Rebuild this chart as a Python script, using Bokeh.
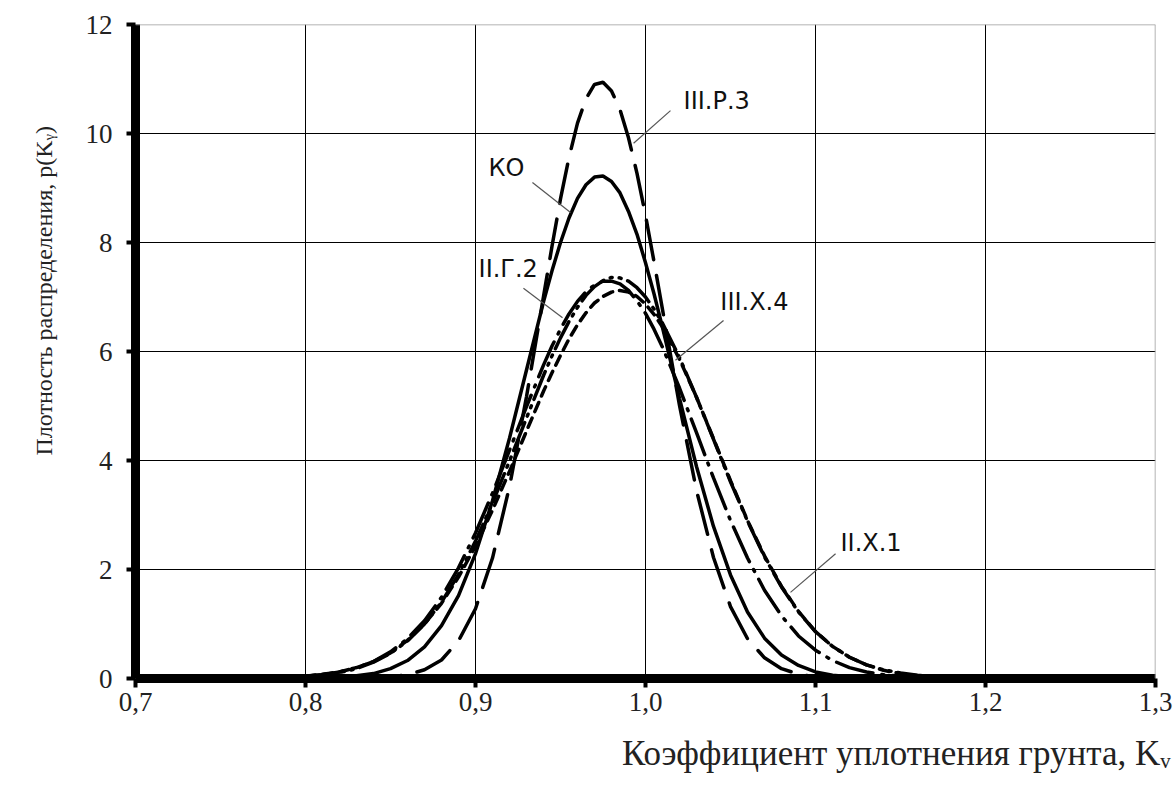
import math
from bokeh.plotting import figure
from bokeh.models import Label, FixedTicker, CustomJSTickFormatter, ColumnDataSource, Title, Span
from bokeh.embed import file_html
from bokeh.resources import INLINE

# ---- data ----
k_values = [0.80, 0.81, 0.82, 0.83, 0.84, 0.85, 0.86, 0.87, 0.88, 0.89,
            0.90, 0.91, 0.92, 0.93, 0.94,
            0.945, 0.95, 0.955, 0.96, 0.965, 0.97, 0.975, 0.98, 0.985, 0.99, 0.995, 1.00, 1.005,
            1.01, 1.02, 1.03, 1.04, 1.05, 1.06, 1.07, 1.08, 1.09, 1.10,
            1.11, 1.12, 1.13, 1.14, 1.15, 1.16, 1.17, 1.18, 1.19, 1.20]

p_III_R_3 = [0.00, 0.00, 0.00, 0.00, 0.01, 0.03, 0.07, 0.16, 0.34, 0.69,
             1.28, 2.21, 3.52, 5.17, 7.01,
             7.93, 8.80, 9.56, 10.19, 10.64, 10.90, 10.94, 10.78, 10.44, 9.92, 9.27, 8.50, 7.65,
             6.77, 5.01, 3.45, 2.22, 1.32, 0.73, 0.38, 0.18, 0.08, 0.03,
             0.01, 0.00, 0.00, 0.00, 0.00, 0.00, 0.00, 0.00, 0.00, 0.00]

p_KO = [0.00, 0.01, 0.02, 0.05, 0.09, 0.18, 0.33, 0.58, 0.97, 1.52,
        2.29, 3.26, 4.41, 5.66, 6.91,
        7.48, 8.00, 8.45, 8.81, 9.06, 9.20, 9.22, 9.12, 8.91, 8.57, 8.15, 7.63, 7.06,
        6.44, 5.14, 3.89, 2.79, 1.90, 1.22, 0.74, 0.43, 0.24, 0.12,
        0.06, 0.03, 0.01, 0.00, 0.00, 0.00, 0.00, 0.00, 0.00, 0.00]

p_II_G_2 = [0.04, 0.07, 0.12, 0.20, 0.31, 0.49, 0.73, 1.06, 1.49, 2.03,
            2.67, 3.40, 4.19, 4.99, 5.75,
            6.10, 6.41, 6.69, 6.92, 7.10, 7.22, 7.29, 7.29, 7.24, 7.12, 6.93, 6.70, 6.41,
            6.08, 5.33, 4.51, 3.68, 2.90, 2.21, 1.62, 1.15, 0.78, 0.52,
            0.33, 0.20, 0.12, 0.07, 0.04, 0.02, 0.01, 0.00, 0.00, 0.00]

p_III_X_4 = [0.04, 0.08, 0.12, 0.20, 0.31, 0.47, 0.70, 1.00, 1.38, 1.86,
             2.43, 3.09, 3.80, 4.54, 5.27,
             5.61, 5.93, 6.23, 6.49, 6.71, 6.89, 7.01, 7.09, 7.12, 7.09, 7.01, 6.87, 6.68,
             6.45, 5.86, 5.16, 4.40, 3.63, 2.90, 2.25, 1.69, 1.23, 0.86,
             0.59, 0.39, 0.25, 0.15, 0.09, 0.05, 0.03, 0.02, 0.01, 0.00]

p_II_X_1 = [0.04, 0.07, 0.11, 0.18, 0.30, 0.46, 0.69, 1.00, 1.40, 1.91,
            2.52, 3.22, 3.99, 4.78, 5.56,
            5.92, 6.25, 6.55, 6.81, 7.03, 7.19, 7.30, 7.36, 7.35, 7.29, 7.17, 7.00, 6.78,
            6.52, 5.89, 5.16, 4.39, 3.61, 2.89, 2.23, 1.68, 1.22, 0.86,
            0.59, 0.39, 0.25, 0.16, 0.10, 0.06, 0.03, 0.02, 0.01, 0.00]

x_ticks = [0.7, 0.8, 0.9, 1.0, 1.1, 1.2, 1.3]
y_ticks = [0, 2, 4, 6, 8, 10, 12]

curve_names = ["III.Р.3", "КО", "II.Г.2", "III.Х.4", "II.Х.1"]
# label anchor (left, middle) and leader line ends, in data units
name_x = [1.0224, 0.9076, 0.9018, 1.0440, 1.1147]
name_y = [10.60, 9.36, 7.52, 6.90, 2.48]
lead_x0 = [1.0147, 0.9335, 0.9282, 1.0459, 1.1118]
lead_y0 = [10.42, 9.10, 7.16, 6.57, 2.29]
lead_x1 = [0.9930, 0.9559, 0.9512, 1.0176, 1.0853]
lead_y1 = [9.82, 8.55, 6.62, 5.84, 1.58]

x_title = "Коэффициент уплотнения грунта, Kᵥ"
y_title = "Плотность распределения, p(Kᵧ)"

# ---- figure ----
p = figure(width=1176, height=791, x_range=(0.7, 1.3), y_range=(0, 12),
           output_backend="svg", toolbar_location=None,
           min_border_left=135, min_border_right=21, min_border_top=24, min_border_bottom=113)
p.background_fill_color = "white"
p.border_fill_color = "white"
p.outline_line_color = None

fmt = CustomJSTickFormatter(code="return tick.toFixed(1).replace('.', ',');")
p.xaxis.ticker = FixedTicker(ticks=x_ticks)
p.xaxis.formatter = fmt
p.yaxis.ticker = FixedTicker(ticks=y_ticks)
p.xgrid.ticker = FixedTicker(ticks=x_ticks[1:-1])
p.ygrid.ticker = FixedTicker(ticks=y_ticks[1:-1])
p.grid.grid_line_color = "black"
p.grid.grid_line_width = 1

# light frame lines at the top and right edges
p.add_layout(Span(location=y_ticks[-1], dimension="width", line_color="#9a9a9a", line_width=1.5))
p.add_layout(Span(location=x_ticks[-1], dimension="height", line_color="#9a9a9a", line_width=1.5))

p.axis.axis_line_width = 9
p.axis.axis_line_color = "black"
p.axis.major_tick_line_width = 4
p.axis.major_tick_line_color = "black"
p.axis.major_tick_out = 9
p.axis.major_tick_in = 0
p.axis.minor_tick_line_color = None
p.axis.major_label_text_font = "Liberation Serif"
p.axis.major_label_text_font_size = "27px"
p.axis.major_label_text_color = "#222222"
p.xaxis.major_label_standoff = 5
p.yaxis.major_label_standoff = 14

src = ColumnDataSource(dict(k=k_values, a=p_III_R_3, b=p_KO, c=p_II_G_2, d=p_III_X_4, e=p_II_X_1))
lw = 3.5
p.line("k", "a", source=src, line_color="black", line_width=lw, line_dash="40 16", line_cap="round")
p.line("k", "b", source=src, line_color="black", line_width=lw)
p.line("k", "c", source=src, line_color="black", line_width=lw, line_dash="38 9 2 9", line_cap="round")
p.line("k", "d", source=src, line_color="black", line_width=lw, line_dash="10 7", line_cap="round")
p.line("k", "e", source=src, line_color="black", line_width=lw, line_dash="30 7 2 7 2 7", line_cap="round")

p.segment(x0=lead_x0, y0=lead_y0, x1=lead_x1, y1=lead_y1, line_color="#555555", line_width=1.2)
for nm, nx, ny in zip(curve_names, name_x, name_y):
    p.add_layout(Label(x=nx, y=ny, text=nm, text_font="DejaVu Sans", text_font_size="24px",
                       text_align="left", text_baseline="middle", text_color="#111111"))

tx = Title(text=x_title, align="right", offset=-15, standoff=37,
           text_font="Liberation Serif", text_font_size="35px", text_font_style="normal",
           text_color="#222222")
p.add_layout(tx, "below")
ty = Title(text=y_title, align="left", offset=223, standoff=52,
           text_font="Liberation Serif", text_font_size="24px", text_font_style="normal",
           text_color="#222222")
p.add_layout(ty, "left")

open("out.html", "w").write(file_html(p, INLINE))
